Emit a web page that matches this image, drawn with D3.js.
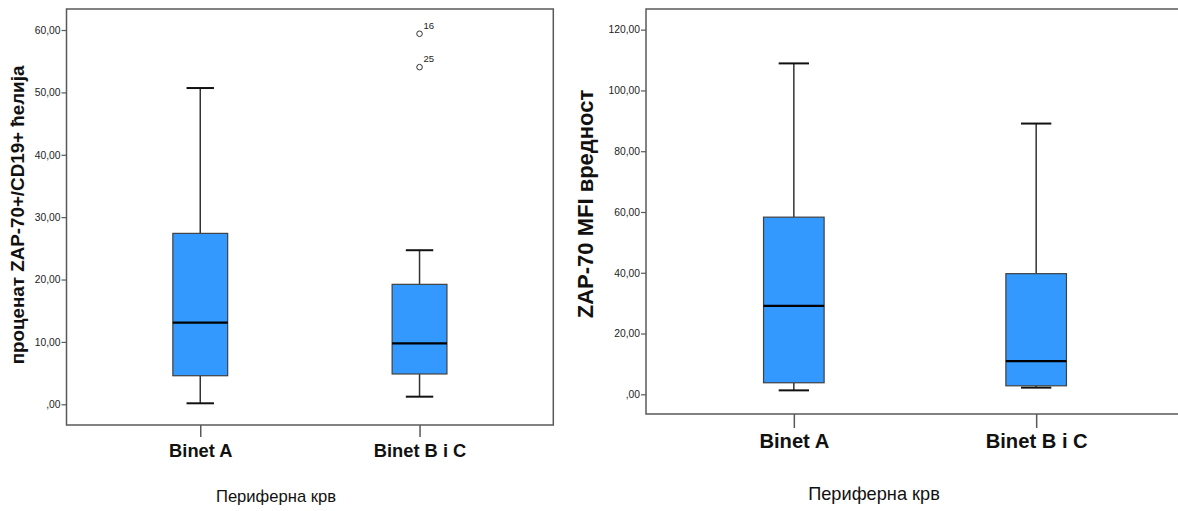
<!DOCTYPE html>
<html><head><meta charset="utf-8">
<script src="https://cdn.jsdelivr.net/npm/d3@7"></script>
<style>body{margin:0;background:#fff}svg{display:block}text{font-family:"Liberation Sans",Arial,sans-serif}</style>
</head><body><svg id="c" width="1178" height="511"></svg>
<script>
const categories = ["Binet A", "Binet B i C"];
// left chart: проценат ZAP-70+/CD19+ ћелија
const leftTicks = [0, 10, 20, 30, 40, 50, 60];
const leftLowWhisker = [0.16, 1.22];
const leftQ1 = [4.58, 4.86];
const leftMedian = [13.08, 9.78];
const leftQ3 = [27.4, 19.23];
const leftHighWhisker = [50.7, 24.7];
const leftOutliers = [{cat: "Binet B i C", value: 59.4, label: "16"}, {cat: "Binet B i C", value: 54.05, label: "25"}];
// right chart: ZAP-70 MFI вредност
const rightTicks = [0, 20, 40, 60, 80, 100, 120];
const rightLowWhisker = [1.3, 2.2];
const rightQ1 = [3.8, 2.8];
const rightMedian = [29.1, 10.95];
const rightQ3 = [58.3, 39.7];
const rightHighWhisker = [108.9, 89.1];
const rightOutliers = [];

const svg = d3.select("#c");
const fmt = v => (v === 0 ? "" : String(v)) + ",00";

function drawPanel(cfg) {
  const g = svg.append("g");
  const x = d3.scalePoint().domain(categories).range([cfg.x0, cfg.x1]).padding(0.61);
  const y = d3.scaleLinear().domain(cfg.domain).range([cfg.y1, cfg.y0]);
  const step = x.step();
  const bw = step * 0.25;

  // frame
  g.append("rect").attr("x", cfg.x0).attr("y", cfg.y0).attr("width", cfg.x1 - cfg.x0).attr("height", cfg.y1 - cfg.y0)
    .attr("fill", "none").attr("stroke", "#595959").attr("stroke-width", 1.5);

  // y axis
  const ya = g.append("g").attr("transform", `translate(${cfg.x0},0)`)
    .call(d3.axisLeft(y).tickValues(cfg.ticks).tickFormat(fmt).tickSize(5).tickPadding(1));
  ya.select(".domain").remove();
  ya.selectAll("line").attr("stroke", "#595959").attr("stroke-width", 1.2);
  ya.selectAll("text").attr("font-size", cfg.tickFont).attr("fill", "#222").attr("font-family", '"Liberation Sans",Arial,sans-serif');

  // x axis
  const xa = g.append("g").attr("transform", `translate(0,${cfg.y1})`)
    .call(d3.axisBottom(x).tickSize(cfg.xTick).tickPadding(cfg.xPad));
  xa.select(".domain").remove();
  xa.selectAll("line").attr("stroke", "#595959").attr("stroke-width", 1.5);
  xa.selectAll("text").attr("font-size", cfg.catFont).attr("font-weight", "bold").attr("fill", "#111").attr("font-family", '"Liberation Sans",Arial,sans-serif');

  const data = categories.map((c, i) => ({c, lo: cfg.lo[i], q1: cfg.q1[i], med: cfg.med[i], q3: cfg.q3[i], hi: cfg.hi[i]}));
  const b = g.selectAll("g.box").data(data).join("g").attr("class", "box");
  // whiskers
  b.append("line").attr("x1", d => x(d.c)).attr("x2", d => x(d.c)).attr("y1", d => y(d.q3)).attr("y2", d => y(d.hi))
    .attr("stroke", "#333").attr("stroke-width", 1.5);
  b.append("line").attr("x1", d => x(d.c)).attr("x2", d => x(d.c)).attr("y1", d => y(d.q1)).attr("y2", d => y(d.lo))
    .attr("stroke", "#333").attr("stroke-width", 1.5);
  b.append("line").attr("x1", d => x(d.c) - bw / 4).attr("x2", d => x(d.c) + bw / 4).attr("y1", d => y(d.hi)).attr("y2", d => y(d.hi))
    .attr("stroke", "#111").attr("stroke-width", 2);
  b.append("line").attr("x1", d => x(d.c) - bw / 4).attr("x2", d => x(d.c) + bw / 4).attr("y1", d => y(d.lo)).attr("y2", d => y(d.lo))
    .attr("stroke", "#111").attr("stroke-width", 2);
  // box
  b.append("rect").attr("x", d => x(d.c) - bw / 2).attr("width", bw).attr("y", d => y(d.q3)).attr("height", d => y(d.q1) - y(d.q3))
    .attr("fill", "#3399FF").attr("stroke", "#404040").attr("stroke-width", 1.2);
  b.append("line").attr("x1", d => x(d.c) - bw / 2).attr("x2", d => x(d.c) + bw / 2).attr("y1", d => y(d.med)).attr("y2", d => y(d.med))
    .attr("stroke", "#000").attr("stroke-width", 2.2);

  // outliers
  const o = g.selectAll("g.out").data(cfg.outliers).join("g").attr("class", "out");
  o.append("circle").attr("cx", d => x(d.cat)).attr("cy", d => y(d.value)).attr("r", 2.8)
    .attr("fill", "none").attr("stroke", "#333").attr("stroke-width", 1);
  o.append("text").attr("x", d => x(d.cat) + 4).attr("y", d => y(d.value) - 5).text(d => d.label)
    .attr("font-size", 9.5).attr("fill", "#222");

  // titles
  g.append("text").attr("transform", `translate(${cfg.ytX},${cfg.ytY}) rotate(-90)`).attr("text-anchor", "middle")
    .attr("font-size", cfg.ytFont).attr("font-weight", "bold").attr("fill", "#111").text(cfg.yTitle);
  g.append("text").attr("x", cfg.xtX).attr("y", cfg.xtY).attr("text-anchor", "middle")
    .attr("font-size", cfg.xtFont).attr("fill", "#111").text("Периферна крв");
}

drawPanel({x0: 66.5, x1: 553.3, y0: 9, y1: 425, domain: [-3.32, 63.37], ticks: leftTicks,
  lo: leftLowWhisker, q1: leftQ1, med: leftMedian, q3: leftQ3, hi: leftHighWhisker, outliers: leftOutliers,
  tickFont: 10.3, catFont: 18.3, xTick: 12, xPad: 7, yTitle: "проценат ZAP-70+/CD19+ ћелија",
  ytX: 24, ytY: 215, ytFont: 18.8, xtX: 276, xtY: 502, xtFont: 16.6});

drawPanel({x0: 646, x1: 1184, y0: 9, y1: 414, domain: [-6.48, 126.8], ticks: rightTicks,
  lo: rightLowWhisker, q1: rightQ1, med: rightMedian, q3: rightQ3, hi: rightHighWhisker, outliers: rightOutliers,
  tickFont: 10.3, catFont: 20.2, xTick: 14, xPad: 6, yTitle: "ZAP-70 MFI вредност",
  ytX: 593, ytY: 204, ytFont: 22, xtX: 874, xtY: 500, xtFont: 18.2});
</script></body></html>
